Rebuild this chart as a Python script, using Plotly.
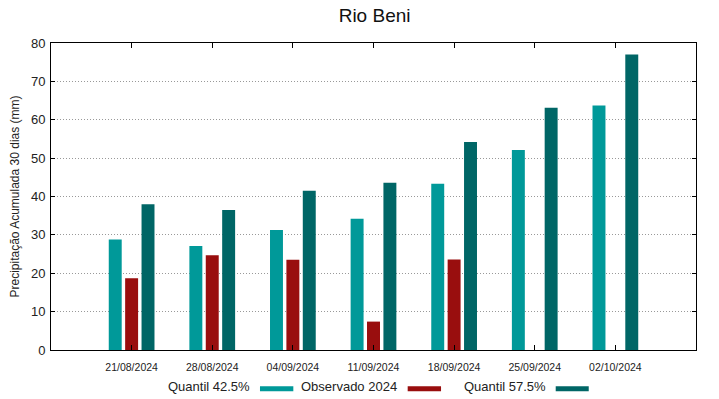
import plotly.graph_objects as go

dates = ["21/08/2024", "28/08/2024", "04/09/2024", "11/09/2024",
         "18/09/2024", "25/09/2024", "02/10/2024"]
q425 = [28.8, 27.1, 31.3, 34.2, 43.3, 52.1, 63.7]
obs2024 = [18.7, 24.7, 23.5, 7.4, 23.6, None, None]
q575 = [38.0, 36.5, 41.5, 43.6, 54.2, 63.1, 77.0]

names = ["Quantil 42.5%", "Observado 2024", "Quantil 57.5%"]
colors = ["#009999", "#990e0e", "#006666"]

FONT = "Liberation Sans, Arial, sans-serif"

fig = go.Figure()
for name, vals, col in zip(names, [q425, obs2024, q575], colors):
    fig.add_trace(go.Bar(x=dates, y=vals, name=name, marker_color=col,
                         marker_line_width=0, showlegend=False))

fig.update_layout(
    width=719, height=399,
    margin=dict(l=51, r=23, t=43, b=49, autoexpand=False),
    paper_bgcolor="white", plot_bgcolor="white",
    barmode="group", bargap=0.39, bargroupgap=0.21,
    font=dict(family=FONT, color="#222222"),
    title=dict(text="Rio Beni", x=0.521, xanchor="center", y=0.961, yanchor="middle",
               font=dict(size=19, family=FONT, color="#111111")),
)

fig.update_xaxes(
    type="category", range=[-1, 7],
    showline=True, linecolor="black", linewidth=1, mirror="ticks",
    ticks="inside", ticklen=5, tickcolor="black",
    showgrid=False, zeroline=False, ticklabelstandoff=7,
    tickfont=dict(size=10.5, family=FONT, color="#222222"),
)
fig.update_yaxes(
    range=[0, 80], dtick=10,
    showline=True, linecolor="black", linewidth=1, mirror="ticks",
    ticks="inside", ticklen=4, tickcolor="black",
    showgrid=True, gridcolor="#999999", griddash="1px,2px", gridwidth=1,
    zeroline=False, ticklabelstandoff=2,
    tickfont=dict(size=13, family=FONT, color="#222222"),
    title=dict(text="Precipitação Acumulada 30 dias (mm)",
               font=dict(size=12, family=FONT, color="#222222"), standoff=8),
)

# gnuplot-style legend: label text followed by a colour sample
leg_y = -0.1205
entries = [(0.3112, 0.3240, 0.3757), (0.540, 0.553, 0.6047), (0.770, 0.7825, 0.8337)]
for (tx, s0, s1), name, col in zip(entries, names, colors):
    fig.add_annotation(x=tx, y=leg_y, xref="paper", yref="paper", text=name,
                       showarrow=False, xanchor="right", yanchor="middle",
                       font=dict(size=13, family=FONT, color="#222222"))
    fig.add_shape(type="line", xref="paper", yref="paper", x0=s0, x1=s1,
                  y0=leg_y - 0.006, y1=leg_y - 0.006, line=dict(color=col, width=5))

# remove the default page margin so the figure fills the window exactly
fig.write_html("out.html", config={"displayModeBar": False},
               post_script="document.body.style.margin='0';")
